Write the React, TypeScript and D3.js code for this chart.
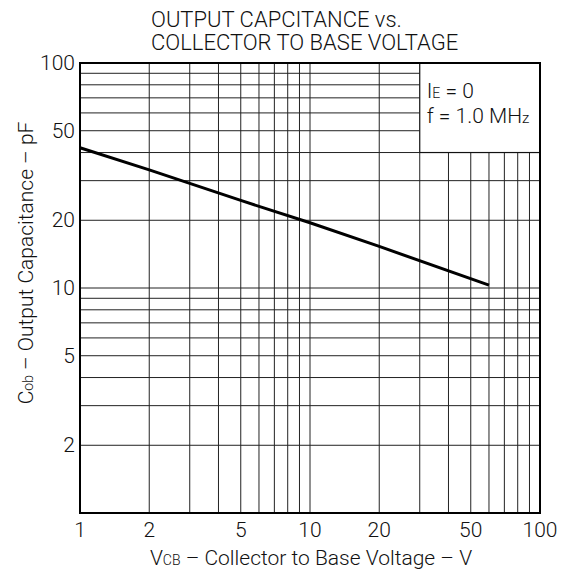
import * as d3 from "d3";

const xTicks = [1, 2, 5, 10, 20, 50, 100];
const yTicks = [2, 5, 10, 20, 50, 100];
// Cob vs VCB
const vcb = [1, 2, 5, 10, 20, 60];
const cob = [42, 33.5, 24.5, 19.5, 15.3, 10.3];

const W = 570;
const H = 571;
const m = { left: 80, top: 63, right: 30, bottom: 58 };
const FONT = "Roboto, 'Liberation Sans', sans-serif";

function logGrid(lo: number, hi: number) {
  const out: number[] = [];
  for (let d = lo; d < hi; d *= 10) for (let k = 2; k <= 9; k++) out.push(d * k);
  return out;
}

export default function App() {
  const x = d3.scaleLog().domain([1, 100]).range([m.left, W - m.right]);
  const y = d3.scaleLog().domain([1, 100]).range([H - m.bottom, m.top]);
  const grid = [...logGrid(1, 100), 10];
  // legend box spans V 30..100, C 40..100
  const bx0 = x(30), by1 = y(40);
  const line = d3.line<number>().x((_, i) => x(vcb[i])).y((d) => y(d));

  return (
    <svg width={W} height={H} style={{ position: "absolute", left: 0, top: 0 }} fontFamily={FONT} fontWeight={300}>
      <rect width={W} height={H} fill="#fff" />
      {grid.map((v) => (
        <line key={"h" + v} x1={x(1)} x2={v >= 40 ? bx0 : x(100)} y1={y(v)} y2={y(v)} stroke="#222" strokeWidth={1} />
      ))}
      {grid.map((v) => (
        <line key={"v" + v} x1={x(v)} x2={x(v)} y1={y(1)} y2={v >= 30 ? by1 : y(100)} stroke="#222" strokeWidth={1} />
      ))}
      <rect x={bx0} y={y(100)} width={x(100) - bx0} height={by1 - y(100)} fill="#fff" stroke="#111" strokeWidth={1.2} />
      <rect x={x(1)} y={y(100)} width={x(100) - x(1)} height={y(1) - y(100)} fill="none" stroke="#000" strokeWidth={2} />
      <path d={line(cob) ?? ""} fill="none" stroke="#000" strokeWidth={3} />
      {xTicks.map((t) => (
        <text key={"xt" + t} x={x(t)} y={y(1) + 24} textAnchor="middle" fontSize={21} fill="#111">{t}</text>
      ))}
      {yTicks.map((t) => (
        <text key={"yt" + t} x={x(1) - 5} y={y(t) + 7} textAnchor="end" fontSize={21} fill="#111">{t}</text>
      ))}
      <text x={151} y={27} fontSize={22} fill="#111">OUTPUT CAPCITANCE vs.</text>
      <text x={151} y={50} fontSize={22} fill="#111">COLLECTOR TO BASE VOLTAGE</text>
      <text x={bx0 + 7} y={98} fontSize={21} fill="#111">
        I<tspan fontSize={14}>E</tspan> = 0
      </text>
      <text x={bx0 + 7} y={123} fontSize={21} fill="#111">
        f = 1.0 MH<tspan fontSize={15}>z</tspan>
      </text>
      <text x={311} y={565} textAnchor="middle" fontSize={21} fill="#111">
        V<tspan fontSize={14}>CB</tspan> – Collector to Base Voltage – V
      </text>
      <text transform={`translate(33,263) rotate(-90)`} textAnchor="middle" fontSize={21} fill="#111">
        C<tspan fontSize={14}>ob</tspan> – Output Capacitance – pF
      </text>
    </svg>
  );
}
